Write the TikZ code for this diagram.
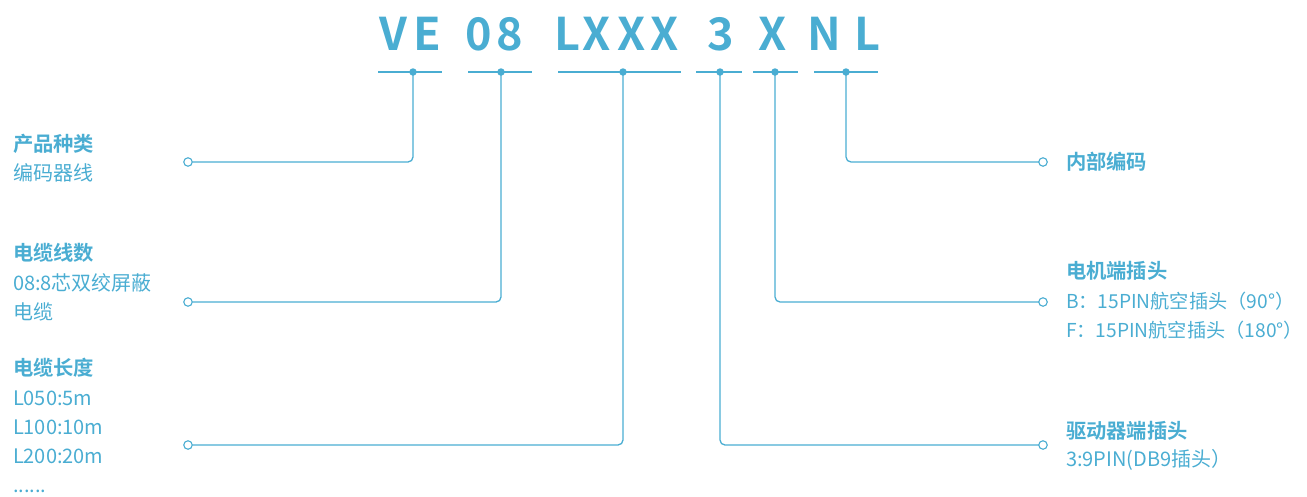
\documentclass[tikz,border=0pt]{standalone}
\usepackage{fontspec}
\setmainfont{Noto Sans CJK SC}
\newfontfamily\cjkbold{Noto Sans CJK SC Bold}
\definecolor{bl}{HTML}{4AADD2}
\begin{document}
\begin{tikzpicture}[x=1pt,y=-1pt,
  every node/.style={inner sep=0pt, outer sep=0pt},
  ttl/.style={anchor=base, text=bl, font=\cjkbold\fontsize{45}{45}\selectfont},
  hd/.style={anchor=base west, text=bl, font=\cjkbold\fontsize{20.3}{21}\selectfont},
  tx/.style={anchor=base west, text=bl, font=\fontsize{20}{21}\selectfont},
  txs/.style={anchor=base west, text=bl, font=\fontsize{19.2}{21}\selectfont},
  dotn/.style={circle, fill=bl, minimum size=7.5pt},
  endc/.style={circle, draw=bl, line width=1.1pt, fill=white, minimum size=8.5pt},
  ln/.style={draw=bl, line width=1.3pt},
  conn/.style={draw=bl, line width=1.3pt, rounded corners=5pt}]
\useasboundingbox (0,0) rectangle (1307,496);
% title letters
\node[ttl] (tV) at (393,50) {V};
\node[ttl] (tE) at (427,50) {E};
\node[ttl] (t0) at (479,50) {0};
\node[ttl] (t8) at (510,50) {8};
\node[ttl] (tL) at (567,50) {L};
\node[ttl] (tX1) at (597,50) {X};
\node[ttl] (tX2) at (632,50) {X};
\node[ttl] (tX3) at (665,50) {X};
\node[ttl] (t3) at (721,50) {3};
\node[ttl] (tX4) at (773,50) {X};
\node[ttl] (tN) at (824,50) {N};
\node[ttl] (tL2) at (867,50) {L};
% bars
\coordinate (b1l) at (378,72); \coordinate (b1r) at (442,72);
\coordinate (b2l) at (468,72); \coordinate (b2r) at (532,72);
\coordinate (b3l) at (558,72); \coordinate (b3r) at (681,72);
\coordinate (b4l) at (696,72); \coordinate (b4r) at (742,72);
\coordinate (b5l) at (753,72); \coordinate (b5r) at (798,72);
\coordinate (b6l) at (814,72); \coordinate (b6r) at (878,72);
\foreach \i in {1,...,6} {\draw[ln] (b\i l) -- (b\i r);}
% end circles
\node[endc] (c1) at (188,162) {};
\node[endc] (c2) at (188,302) {};
\node[endc] (c3) at (188,445) {};
\node[endc] (c4) at (1043,445) {};
\node[endc] (c5) at (1043,302) {};
\node[endc] (c6) at (1043,162) {};
% dot coordinates
\coordinate (d1) at (413,72);
\coordinate (d2) at (501,72);
\coordinate (d3) at (623,72);
\coordinate (d4) at (720,72);
\coordinate (d5) at (775,72);
\coordinate (d6) at (846,72);
\foreach \i in {1,...,6} {\draw[conn] (d\i) |- (c\i);}
\foreach \i in {1,...,6} {\node[dotn] (dot\i) at (d\i) {};}
% left texts
\node[hd] (h1) at (13,151) {产品种类};
\node[tx] (s1) at (13,180) {编码器线};
\node[hd] (h2) at (13,260) {电缆线数};
\node[tx] (s2a) at (13,290.5) {08:8芯双绞屏蔽};
\node[tx] (s2b) at (13,319) {电缆};
\node[hd] (h3) at (13,375.5) {电缆长度};
\node[tx] (s3a) at (13,405) {L050:5m};
\node[tx] (s3b) at (13,434) {L100:10m};
\node[tx] (s3c) at (13,463) {L200:20m};
\node[tx] (s3d) at (13,492) {......};
% right texts
\node[hd] (h6) at (1066,169) {内部编码};
\node[hd] (h5) at (1066,278) {电机端插头};
\node[txs] (s5a) at (1066,308) {B：15PIN航空插头（90°）};
\node[txs] (s5b) at (1066,337) {F：15PIN航空插头（180°）};
\node[hd] (h4) at (1066,438) {驱动器端插头};
\node[tx] (s4a) at (1066,466.5) {3:9PIN(DB9插头）};
\end{tikzpicture}
\end{document}
